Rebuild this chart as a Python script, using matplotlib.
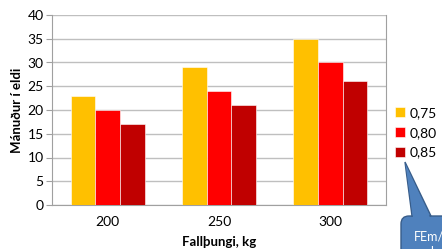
import matplotlib.pyplot as plt
import numpy as np
from matplotlib.patches import FancyBboxPatch, Polygon

plt.rcParams['font.family'] = ['Lato', 'DejaVu Sans']

categories = ["200", "250", "300"]
series_names = ["0,75", "0,80", "0,85"]
v075 = [23, 29, 35]
v080 = [20, 24, 30]
v085 = [17, 21, 26]
colors = ["#FFC000", "#FF0000", "#C00000"]

fig = plt.figure(figsize=(4.42, 2.49), dpi=100)
ax = fig.add_axes([52 / 442, 44 / 249, 334 / 442, 190 / 249])

x = np.arange(len(categories))
w = 0.222
for i, (vals, name) in enumerate(zip([v075, v080, v085], series_names)):
    ax.bar(x + (i - 1) * w, vals, width=w, color=colors[i], label=name,
           edgecolor="white", linewidth=0.4, zorder=3)

ax.set_xlim(-0.5, 2.5)
ax.set_ylim(0, 40)
ax.set_yticks(range(0, 41, 5))
ax.set_xticks(x)
ax.set_xticklabels(categories)
ax.yaxis.grid(True, color="#BFBFBF", linewidth=1, zorder=0)
for s in ax.spines.values():
    s.set_color("#A0A0A0")
ax.spines["top"].set_visible(False)
ax.tick_params(axis="y", length=4, color="#A0A0A0", labelsize=10, pad=2)
ax.tick_params(axis="x", length=0, labelsize=10, pad=8)
ax.set_ylabel("Mánuður í eldi", fontsize=9.5, fontweight="bold", labelpad=3)
ax.set_xlabel("Fallþungi, kg", fontsize=9.5, fontweight="bold", labelpad=6)

leg = ax.legend(loc="center left", bbox_to_anchor=(1.01, 0.38), frameon=False,
                fontsize=10, handlelength=0.75, handleheight=0.75,
                handletextpad=0.3, labelspacing=0.55, borderaxespad=0)

# callout shape
H = 249
box = FancyBboxPatch((401, H - 262), 60, 46, boxstyle="round,pad=0,rounding_size=8",
                     transform=None, facecolor="#4F81BD", edgecolor="#385D8A",
                     linewidth=1, clip_on=False, zorder=5)
fig.add_artist(box)
tri = Polygon([(412, H - 216), (405, H - 162), (431, H - 216)], closed=True,
              transform=None, facecolor="#4F81BD", edgecolor="#385D8A",
              linewidth=1, zorder=5)
fig.add_artist(tri)
tri2 = Polygon([(413, H - 217.5), (405.5, H - 164), (430, H - 217.5)], closed=True,
               transform=None, facecolor="#4F81BD", edgecolor="none", zorder=6)
fig.add_artist(tri2)
fig.text(414 / 442, 1 - 236 / 249, "FEm/", color="white", fontsize=9,
         va="center", ha="left", zorder=7)
fig.text(430 / 442, 1 - 252 / 249, "kg", color="white", fontsize=9,
         va="center", ha="left", zorder=7)

fig.savefig("out.png", dpi=100)
